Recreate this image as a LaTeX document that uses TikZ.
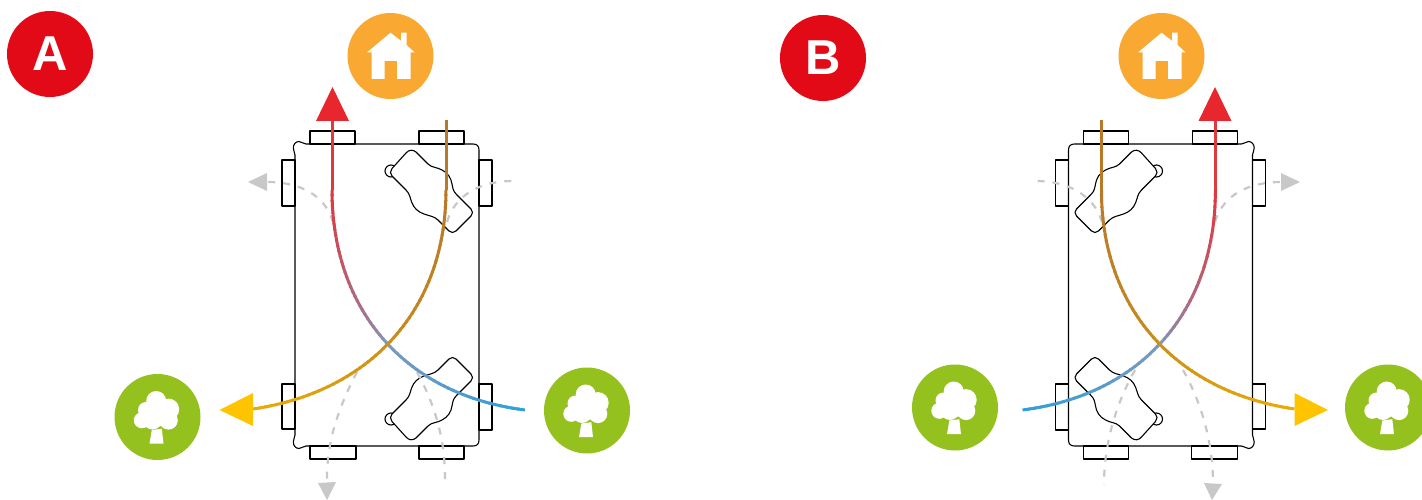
\documentclass[tikz,border=0pt]{standalone}
\usepackage{fontspec}
\setmainfont{Liberation Sans}
\definecolor{badge}{HTML}{E30A17}
\definecolor{homec}{HTML}{F9A832}
\definecolor{treec}{HTML}{95C11F}
\definecolor{redtip}{HTML}{E8262D}
\definecolor{yeltip}{HTML}{FFC400}
\definecolor{greyc}{HTML}{C8C8C8}
\definecolor{bluea}{HTML}{2E9FDC}
\definecolor{blueb}{HTML}{8098BE}
\definecolor{redb}{HTML}{DD3A40}
\definecolor{orga}{HTML}{EAAC06}
\definecolor{orgb}{HTML}{C9901C}
\definecolor{orgc}{HTML}{B87A28}
\tikzset{
  badgenode/.style={circle,fill=badge,minimum size=86pt,inner sep=0pt,text=white,font=\bfseries\fontsize{49}{49}\selectfont},
  homenode/.style={circle,fill=homec,minimum size=86pt,inner sep=0pt},
  treenode/.style={circle,fill=treec,minimum size=86pt,inner sep=0pt},
  unitline/.style={draw=black,line width=1.1pt,line join=round},
  flow/.style={line width=3pt},
  dashline/.style={draw=greyc,line width=2.2pt,dash pattern=on 7pt off 8pt},
}
% gradient cubic between named coordinates
\newcommand{\gradcurve}[7]{%
  \path (#1); \pgfgetlastxy{\gAx}{\gAy}%
  \path (#2); \pgfgetlastxy{\gBx}{\gBy}%
  \path (#3); \pgfgetlastxy{\gCx}{\gCy}%
  \path (#4); \pgfgetlastxy{\gDx}{\gDy}%
  \foreach \i in {1,...,60}{%
    \pgfmathsetmacro{\ta}{(\i-1)/60}%
    \pgfmathsetmacro{\tb}{min(1,(\i+0.3)/60)}%
    \pgfmathsetmacro{\xa}{(1-\ta)^3*\gAx+3*(1-\ta)^2*\ta*\gBx+3*(1-\ta)*\ta^2*\gCx+\ta^3*\gDx}%
    \pgfmathsetmacro{\ya}{(1-\ta)^3*\gAy+3*(1-\ta)^2*\ta*\gBy+3*(1-\ta)*\ta^2*\gCy+\ta^3*\gDy}%
    \pgfmathsetmacro{\xb}{(1-\tb)^3*\gAx+3*(1-\tb)^2*\tb*\gBx+3*(1-\tb)*\tb^2*\gCx+\tb^3*\gDx}%
    \pgfmathsetmacro{\yb}{(1-\tb)^3*\gAy+3*(1-\tb)^2*\tb*\gBy+3*(1-\tb)*\tb^2*\gCy+\tb^3*\gDy}%
    \ifnum\i<31
      \pgfmathsetmacro{\pc}{\i/30*100}%
      \colorlet{segc}{#6!\pc!#5}%
    \else
      \pgfmathsetmacro{\pc}{((\i-30)/30)^0.65*100}%
      \colorlet{segc}{#7!\pc!#6}%
    \fi
    \draw[flow,draw=segc] (\xa pt,\ya pt) -- (\xb pt,\yb pt);%
  }%
}
\newcommand{\filterpart}{%
  \draw[unitline] (391,171) circle (6);
  \draw[unitline,fill=white] (406,153) .. controls (409,149.5) and (413,149.5) .. (416,152) -- (428,164)
    .. controls (432,168) and (437,167) .. (442,170) .. controls (448,173) and (451,178) .. (452,184)
    .. controls (453,189) and (453,191) .. (457,195) -- (471,209) .. controls (473,211) and (473,214) .. (471,216)
    -- (456,231) .. controls (454,233) and (451,233) .. (449,231) -- (438,220)
    .. controls (434,216) and (429,216) .. (424,214) .. controls (418,212) and (414,208) .. (412,203)
    .. controls (410,198) and (410,194) .. (406,190) -- (392,176) .. controls (390,174) and (390,171) .. (392,168.5) -- cycle;
}
\newcommand{\ventunit}{%
  \draw[unitline] (310,144) rectangle (355,131);
  \draw[unitline] (419,144) rectangle (464,131);
  \draw[unitline] (310,446) rectangle (356,459);
  \draw[unitline] (419,446) rectangle (464,459);
  \draw[unitline] (295,160) rectangle (282,206);
  \draw[unitline] (479,160) rectangle (492,206);
  \draw[unitline] (295,384) rectangle (282,429);
  \draw[unitline] (479,384) rectangle (492,430);
  \draw[unitline] (306,144) -- (473,144) .. controls (477,144) and (479,146) .. (479,150)
    -- (479,440) .. controls (479,444) and (477,446) .. (473,446) -- (306,446)
    .. controls (303,446) and (302,448.5) .. (299,448.5) .. controls (296,448.5) and (293.3,446) .. (293.3,442)
    .. controls (293.3,439) and (295,437) .. (295,435)
    -- (295,155)
    .. controls (295,153) and (293.3,151) .. (293.3,148) .. controls (293.3,144) and (296,141.5) .. (299,141.5)
    .. controls (302,141.5) and (303,144) .. (306,144) -- cycle;
  \filterpart
  \begin{scope}[cm={1,0,0,-1,(0,590)}]\filterpart\end{scope}
}
\newcommand{\houseicon}[1]{%
  \fill[white,shift={(#1)}] (0,-23.3) -- (10.7,-15) -- (10.7,-23.3) -- (16,-23.3) -- (16,-11) -- (24,-3.7)
    -- (20,-3.7) -- (20,23) -- (6.7,23) -- (6.7,5) -- (-6,5) -- (-6,23) -- (-19,23) -- (-19,-3.7) -- (-23.3,-3.7) -- cycle;
}
\newcommand{\treeicon}[1]{%
  \begin{scope}[shift={(#1)}]
    \fill[white] (-1.3,-16) circle (10);
    \fill[white] (11,-7.7) circle (10.7);
    \fill[white] (-11.5,-7) circle (8);
    \fill[white] (-15.7,3.3) circle (8);
    \fill[white] (-1,-3) circle (13);
    \fill[white] (-5,3) circle (9.5);
    \fill[white] (11,3.3) circle (9.3);
    \fill[white] (-5.7,13) -- (4.3,11.7) -- (6,26.7) -- (-8,26.7) -- cycle;
  \end{scope}
}
\begin{document}
\begin{tikzpicture}[x=1pt,y=-1pt]
\useasboundingbox (0,0) rectangle (1422,500);
\clip (0,0) rectangle (1422,500);
\node[badgenode] (badgeA) at (50,54) {A};
\node[badgenode] (badgeB) at (823,58) {B};
\node[homenode] (homeA) at (390.5,56) {};
\node[homenode] (homeB) at (1161.5,56) {};
\node[treenode] (treeAl) at (157.5,417) {};
\node[treenode] (treeAr) at (587,410.5) {};
\node[treenode] (treeBl) at (955,407.5) {};
\node[treenode] (treeBr) at (1388,407.5) {};
\houseicon{homeA}
\houseicon{homeB}
\treeicon{treeAl}
\treeicon{treeAr}
\treeicon{treeBl}
\treeicon{treeBr}
% units
\ventunit
\begin{scope}[cm={-1,0,0,1,(1547.5,0)}]\ventunit\end{scope}
% grey dashed, A
\coordinate (ga1) at (333,222); \coordinate (ga1e) at (267,182);
\coordinate (ga2) at (447,222); \coordinate (ga2e) at (513,181);
\coordinate (ga3) at (357,372); \coordinate (ga3e) at (327,483);
\coordinate (ga4) at (417,372); \coordinate (ga4e) at (445,485);
\draw[dashline] (ga1) .. controls (325,195) and (300,182) .. (ga1e);
\draw[dashline] (ga2) .. controls (455,195) and (480,181) .. (ga2e);
\draw[dashline] (ga3) .. controls (340,405) and (326,440) .. (ga3e);
\draw[dashline] (ga4) .. controls (435,405) and (446,440) .. (ga4e);
\fill[greyc] (248,182) -- (267,173) -- (267,191) -- cycle;
\fill[greyc] (327,500) -- (318,483) -- (336,482) -- cycle;
% grey dashed, B
\coordinate (gb1) at (1102,222); \coordinate (gb1e) at (1035,181);
\coordinate (gb2) at (1215,222); \coordinate (gb2e) at (1282,182);
\coordinate (gb3) at (1135,370); \coordinate (gb3e) at (1104,485);
\coordinate (gb4) at (1183,370); \coordinate (gb4e) at (1213,483);
\draw[dashline] (gb1) .. controls (1094,195) and (1068,181) .. (gb1e);
\draw[dashline] (gb2) .. controls (1223,195) and (1248,182) .. (gb2e);
\draw[dashline] (gb3) .. controls (1118,400) and (1104,440) .. (gb3e);
\draw[dashline] (gb4) .. controls (1200,400) and (1213,440) .. (gb4e);
\fill[greyc] (1300,182) -- (1281,173) -- (1281,191) -- cycle;
\fill[greyc] (1212,500) -- (1204,483) -- (1222,484) -- cycle;
% flows, A
\coordinate (ra) at (525,410); \coordinate (ra1) at (405,395); \coordinate (ra2) at (332,310);
\coordinate (ra3) at (332,190); \coordinate (ratip) at (332,121);
\coordinate (oa) at (446,120); \coordinate (oa0) at (446,190); \coordinate (oa1) at (446,310);
\coordinate (oa2) at (370,392); \coordinate (oa3) at (253,409);
\gradcurve{ra}{ra1}{ra2}{ra3}{bluea}{blueb}{redb}
\draw[flow,draw=redb] (ra3) -- (ratip);
\gradcurve{oa3}{oa2}{oa1}{oa0}{orga}{orgb}{orgc}
\draw[flow,draw=orgc] (oa0) -- (oa);
\fill[redtip] (332.5,87) -- (316,121) -- (349,121) -- cycle;
\fill[yeltip] (219.5,410) -- (253,393) -- (253,426) -- cycle;
% flows, B
\coordinate (rb) at (1022.5,410); \coordinate (rb1) at (1142.5,395); \coordinate (rb2) at (1215.5,310);
\coordinate (rb3) at (1215.5,190); \coordinate (rbtip) at (1215.5,121);
\coordinate (ob) at (1101.5,120); \coordinate (ob0) at (1101.5,190); \coordinate (ob1) at (1101.5,310);
\coordinate (ob2) at (1177.5,392); \coordinate (ob3) at (1294.5,409);
\gradcurve{rb}{rb1}{rb2}{rb3}{bluea}{blueb}{redb}
\draw[flow,draw=redb] (rb3) -- (rbtip);
\gradcurve{ob3}{ob2}{ob1}{ob0}{orga}{orgb}{orgc}
\draw[flow,draw=orgc] (ob0) -- (ob);
\fill[redtip] (1215,87) -- (1198.5,121) -- (1231.5,121) -- cycle;
\fill[yeltip] (1328,410) -- (1294.5,393) -- (1294.5,426) -- cycle;
\end{tikzpicture}
\end{document}
